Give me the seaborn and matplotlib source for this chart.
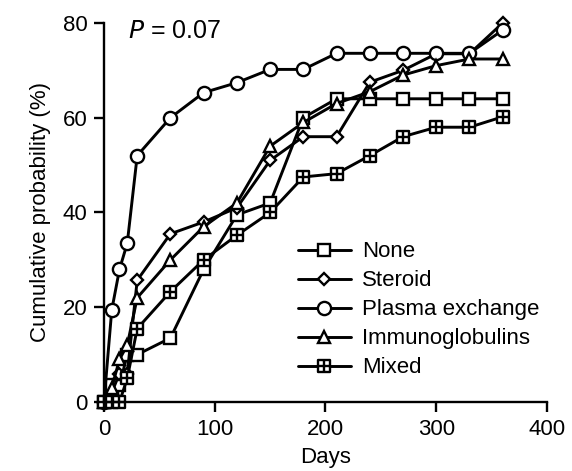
import numpy as np
import pandas as pd
import matplotlib
matplotlib.use("Agg")
import matplotlib.pyplot as plt
from matplotlib.path import Path
import seaborn as sns

days = [0, 7, 14, 21, 30, 60, 90, 120, 150, 180, 210, 240, 270, 300, 330, 360]
none_vals = [0, 3.5, 3.5, 10, 10, 13.5, 28, 39.5, 42, 60, 64, 64, 64, 64, 64, 64]
steroid_vals = [0, 2, 6, 6, 25.7, 35.5, 38, 41, 51, 56, 56, 67.5, 70, 73.5, 73.5, 80]
plasma_vals = [0, 19.4, 28, 33.5, 52, 60, 65.3, 67.4, 70.2, 70.2, 73.6, 73.6, 73.6, 73.6, 73.6, 78.5]
immuno_vals = [0, 3, 9, 12, 22, 30, 37, 42, 54, 59, 63, 65.5, 69, 71, 72.4, 72.4]
mixed_vals = [0, 0, 0, 5, 15.5, 23.3, 30, 35.2, 40, 47.5, 48.2, 52, 56, 58, 58, 60.2]
labels = ["None", "Steroid", "Plasma exchange", "Immunoglobulins", "Mixed"]
series = [none_vals, steroid_vals, plasma_vals, immuno_vals, mixed_vals]

# square with cross marker
verts = [(-1, -1), (1, -1), (1, 1), (-1, 1), (-1, -1),
         (0, -1), (0, 1), (-1, 0), (1, 0)]
codes = [Path.MOVETO, Path.LINETO, Path.LINETO, Path.LINETO, Path.CLOSEPOLY,
         Path.MOVETO, Path.LINETO, Path.MOVETO, Path.LINETO]
boxplus = Path(verts, codes)

markers = {"None": "s", "Steroid": "D", "Plasma exchange": "o",
           "Immunoglobulins": "^", "Mixed": boxplus}
msizes = {"None": 9, "Steroid": 6.5, "Plasma exchange": 9.5,
          "Immunoglobulins": 8.5, "Mixed": 8.5}

sns.set_style("ticks")
plt.rcParams['font.family'] = ['Liberation Sans', 'DejaVu Sans']
plt.rcParams['text.color'] = 'black'
plt.rcParams['axes.labelcolor'] = 'black'
plt.rcParams['axes.edgecolor'] = 'black'

fig = plt.figure(figsize=(5.72, 4.71), dpi=100)
ax = fig.add_axes([0.1818, 0.1465, 0.7745, 0.8047])

for lab, vals in zip(labels, series):
    df = pd.DataFrame({"Days": days, "pct": vals})
    sns.lineplot(data=df, x="Days", y="pct", ax=ax, color="black",
                 marker=markers[lab], markersize=msizes[lab],
                 markerfacecolor="white", markeredgecolor="black",
                 markeredgewidth=1.7, linewidth=2.1, label=lab, clip_on=False)

ax.set_xlim(0, 400)
ax.set_ylim(0, 80)
ax.set_xticks([0, 100, 200, 300, 400])
ax.set_yticks([0, 20, 40, 60, 80])
for s in ["top", "right"]:
    ax.spines[s].set_visible(False)
for s in ["left", "bottom"]:
    ax.spines[s].set_linewidth(1.7)
    ax.spines[s].set_color("black")
ax.tick_params(direction="out", length=7, width=1.7, labelsize=16, pad=5,
               colors="black", labelcolor="black")
ax.set_xlabel("Days", fontsize=16, labelpad=5, color="black")
ax.set_ylabel("Cumulative probability (%)", fontsize=16, labelpad=8, color="black")

ax.text(0.055, 0.979, r"$\it{P}$ = 0.07", transform=ax.transAxes, fontsize=18,
        va="center", ha="left", color="black")

leg = ax.legend(loc="upper left", bbox_to_anchor=(0.417, 0.447), frameon=False,
                fontsize=16, handlelength=2.4, handletextpad=0.5,
                labelspacing=0.36, borderaxespad=0)
for t in leg.get_texts():
    t.set_color("black")

fig.savefig("out.png", dpi=100)
